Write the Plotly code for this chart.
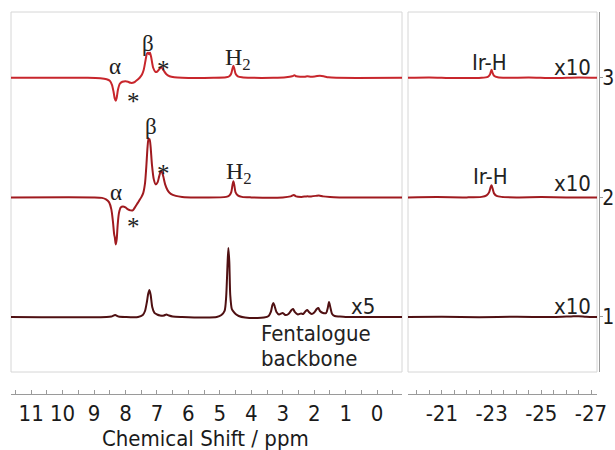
import plotly.graph_objects as go

# ---------------- data ----------------
# (chemical shift / ppm, displayed intensity / a.u.) for each trace
spec3_low = [(11.64, 0), (9.2, 0), (8.8, -0.5), (8.6, -1.5), (8.5, -3), (8.43, -7), (8.38, -14),
             (8.34, -21), (8.31, -23), (8.28, -20), (8.24, -12), (8.18, -6), (8.1, -4), (8.0, -3.5),
             (7.92, -4), (7.84, -5), (7.77, -5), (7.7, -4), (7.62, -2), (7.55, 0), (7.48, 3), (7.42, 8),
             (7.36, 18), (7.32, 24), (7.28, 25), (7.25, 23.5), (7.22, 25), (7.18, 20), (7.12, 10),
             (7.05, 6), (7.0, 6), (6.94, 8), (6.88, 10), (6.84, 10), (6.78, 7), (6.7, 3.5), (6.6, 1.5),
             (6.45, 0.5), (6.2, 0), (5.2, 0), (4.8, 0.5), (4.7, 1.5), (4.64, 4), (4.6, 9), (4.57, 12),
             (4.54, 9), (4.5, 4), (4.43, 1.5), (4.3, 0.5), (4.0, 0), (3.3, 0), (2.9, 0.5), (2.7, 1.5),
             (2.63, 2.5), (2.57, 1.5), (2.45, 1), (2.3, 1), (2.22, 1.5), (2.1, 1), (1.95, 1.5),
             (1.82, 2), (1.7, 1.5), (1.55, 0.5), (1.3, 0), (-0.79, 0)]
spec2_low = [(11.64, 0), (9.0, 0), (8.75, -0.5), (8.62, -2), (8.52, -5), (8.45, -12), (8.40, -24),
             (8.36, -37), (8.34, -40), (8.31, -47), (8.28, -42), (8.25, -28), (8.21, -16), (8.15, -10),
             (8.08, -9), (8.0, -10), (7.92, -12), (7.84, -13), (7.77, -13), (7.7, -10), (7.62, -6),
             (7.56, -3), (7.5, 0), (7.44, 4), (7.38, 14), (7.34, 30), (7.30, 50), (7.27, 59), (7.25, 57),
             (7.23, 58), (7.20, 50), (7.16, 33), (7.1, 18), (7.04, 13), (6.98, 15), (6.93, 21), (6.88, 26),
             (6.85, 26), (6.8, 21), (6.74, 13), (6.66, 7), (6.56, 3.5), (6.4, 1.5), (6.2, 0.5), (5.8, 0),
             (4.8, 0.5), (4.7, 2), (4.64, 5), (4.6, 12), (4.57, 16), (4.54, 12), (4.5, 5), (4.43, 2),
             (4.3, 0.5), (4.0, 0), (3.0, 0), (2.75, 1), (2.65, 2.5), (2.58, 1), (2.4, 0.5), (2.25, 1),
             (2.1, 1), (1.95, 1.5), (1.85, 2), (1.72, 1), (1.5, 0.3), (1.2, 0), (-0.79, 0)]
spec1_low = [(11.64, 0), (8.6, 0), (8.45, 0.5), (8.33, 2), (8.22, 0.5), (8.0, 0), (7.6, 0), (7.45, 2),
             (7.38, 6), (7.32, 15), (7.28, 23), (7.24, 27), (7.2, 22), (7.15, 10), (7.08, 4), (7.0, 2.5),
             (6.9, 1.5), (6.78, 1.5), (6.7, 2.5), (6.62, 1.5), (6.5, 0.5), (6.2, 0), (5.5, -0.5), (5.1, 0),
             (4.95, 2), (4.85, 6), (4.80, 20), (4.76, 50), (4.73, 69), (4.70, 55), (4.67, 22), (4.62, 8),
             (4.56, 5), (4.5, 3), (4.4, 1), (4.2, -0.5), (3.8, -1), (3.6, -0.5), (3.45, 1), (3.38, 5),
             (3.33, 12), (3.30, 14), (3.26, 11), (3.2, 5), (3.12, 2.5), (3.0, 4), (2.92, 2), (2.82, 3),
             (2.72, 7), (2.67, 8), (2.62, 5), (2.52, 2.5), (2.42, 3.5), (2.35, 3), (2.27, 6), (2.22, 7),
             (2.17, 5), (2.08, 3), (2.0, 4.5), (1.92, 8), (1.87, 9), (1.82, 6), (1.72, 4), (1.62, 4),
             (1.57, 9), (1.53, 15), (1.49, 10), (1.43, 3), (1.35, 1), (1.2, 0.5), (1.0, 0), (-0.79, 0)]

spec3_high = [(-19.64, 0), (-20.5, 0.3), (-21.5, -0.3), (-22.6, 0), (-22.85, 1), (-22.93, 3),
              (-22.97, 6), (-23.0, 8), (-23.04, 5), (-23.1, 2), (-23.25, 0.5), (-23.6, 0),
              (-24.5, 0.3), (-25.5, -0.3), (-26.5, 0.3), (-27.24, 0)]
spec2_high = [(-19.64, 0), (-20.8, 0.3), (-22.0, 0), (-22.6, 0.5), (-22.8, 2), (-22.9, 5),
              (-22.96, 10), (-23.0, 12), (-23.04, 9), (-23.1, 4), (-23.2, 1.5), (-23.4, 0.5),
              (-24.0, 0), (-25.0, 0.3), (-26.0, 0), (-27.24, 0)]
spec1_high = [(-19.64, 0), (-21.0, 0.2), (-22.5, -0.2), (-24.0, 0.2), (-25.5, 0), (-26.2, 0.6),
              (-26.5, 0.8), (-26.8, 0.3), (-27.24, 0)]

trace_offsets = [1, 2, 3]          # stacking offsets = y tick values
trace_labels = ["1", "2", "3"]
low_ticks = list(range(0, 12))
high_ticks = [-21, -23, -25, -27]
GAIN = 1 / 119.5                   # a.u. -> stacking units

colors = {1: "#4f1012", 2: "#a01a1f", 3: "#c8262c"}

SANS = "DejaVu Sans Condensed, Liberation Sans, sans-serif"
SERIF = "Liberation Serif, DejaVu Serif, serif"

fig = go.Figure()

def add(spec, off, xa):
    xs = [p[0] for p in spec]
    ys = [off + p[1] * GAIN for p in spec]
    fig.add_trace(go.Scatter(x=xs, y=ys, mode="lines", xaxis=xa, yaxis="y",
                             line=dict(color=colors[off], width=2, shape="spline", smoothing=0.7),
                             showlegend=False, hoverinfo="skip"))

for spec, off in [(spec1_low, 1), (spec2_low, 2), (spec3_low, 3)]:
    add(spec, off, "x")
for spec, off in [(spec1_high, 1), (spec2_high, 2), (spec3_high, 3)]:
    add(spec, off, "x2")

W, H = 615, 450
L, R, T, B = 11, 615 - 599, 12, 450 - 394
pw = W - L - R
ph = H - T - B

axis_common = dict(showgrid=False, zeroline=False, showline=True, linecolor="#9a9a9a", linewidth=1,
                   ticks="inside", ticklen=4, tickcolor="#9a9a9a", tickwidth=1,
                   tickfont=dict(family=SANS, size=22, color="#1a1a1a"),
                   anchor="free", position=0, automargin=False)

fig.update_layout(
    template="none",
    width=W, height=H, margin=dict(l=L, r=R, t=T, b=B, autoexpand=False),
    paper_bgcolor="white", plot_bgcolor="white",
    xaxis=dict(domain=[0, (402 - L) / pw], range=[11.64, -0.79], tickvals=low_ticks,
               minor=dict(dtick=0.5, ticks="inside", ticklen=4, tickcolor="#9a9a9a"),
               **axis_common),
    xaxis2=dict(domain=[(408 - L) / pw, (597 - L) / pw], range=[-19.64, -27.24], tickvals=high_ticks,
                ticktext=[str(v) for v in high_ticks],
                minor=dict(dtick=0.5, ticks="inside", ticklen=4, tickcolor="#9a9a9a"),
                **axis_common),
    yaxis=dict(domain=[(394 - 372) / ph, 1], range=[0.54, 3.55], side="right", anchor="free", position=1,
               showgrid=False, zeroline=False, showline=True, linecolor="#9a9a9a", linewidth=1,
               ticks="outside", ticklen=3, tickcolor="#9a9a9a", automargin=False,
               ticklabelstandoff=-5,
               tickvals=trace_offsets, ticktext=trace_labels,
               tickfont=dict(family=SANS, size=21, color="#1a1a1a")),
)

# panel frames
for xr in ["x domain", "x2 domain"]:
    fig.add_shape(type="rect", xref=xr, yref="y domain", x0=0, x1=1, y0=0, y1=1,
                  line=dict(color="#d6d6d6", width=1), layer="below")

def ann(text, x, y, xref="x", font=SERIF, size=23, xanchor="center", color="#222222"):
    fig.add_annotation(text=text, x=x, y=y, xref=xref, yref="y", showarrow=False,
                       xanchor=xanchor, yanchor="middle",
                       font=dict(family=font, size=size, color=color))

# spectrum 3 labels
ann("α", 8.33, 3.092)
ann("β", 7.27, 3.285)
ann("*", 6.78, 3.07, size=25)
ann("*", 7.75, 2.80, size=25)
ann("H<sub>2</sub>", 4.42, 3.16, size=24)
# spectrum 2 labels
ann("β", 7.18, 2.59)
ann("*", 6.78, 2.20, size=25)
ann("α", 8.30, 2.04)
ann("*", 7.75, 1.76, size=25)
ann("H<sub>2</sub>", 4.40, 2.20, size=24)

ann("Ir-H", -22.92, 3.125, xref="x2", font=SANS, size=22)
ann("Ir-H", -22.96, 2.174, xref="x2", font=SANS, size=22)
for yv in [3.083, 2.12, 1.084]:
    ann("x10", -27.06, yv, xref="x2", font=SANS, size=22, xanchor="right")
ann("x5", 0.0, 1.084, font=SANS, size=22, xanchor="right")
ann("Fentalogue", 3.75, 0.866, font=SANS, size=22, xanchor="left")
ann("backbone", 3.75, 0.657, font=SANS, size=22, xanchor="left")

fig.add_annotation(text="Chemical Shift / ppm", xref="paper", yref="paper",
                   x=(205 - L) / pw, y=(394 - 438) / ph, showarrow=False,
                   xanchor="center", yanchor="middle",
                   font=dict(family=SANS, size=22, color="#1a1a1a"))

fig.write_html("out.html", config={"displayModeBar": False},
               post_script="document.body.style.margin='0px';document.body.style.overflow='hidden';")
